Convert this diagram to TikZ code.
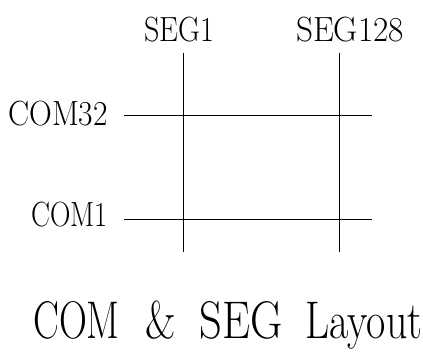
\documentclass[tikz,border=0pt]{standalone}
\usepackage{graphicx}
\tikzset{
  lbl/.style={inner sep=0pt, font=\fontsize{35}{42}\selectfont},
  ttl/.style={inner sep=0pt, font=\fontsize{53}{64}\selectfont},
  wire/.style={line width=0.9pt, black}
}
\newcommand{\cnd}[2]{\scalebox{#1}[1]{#2}}
\begin{document}
\begin{tikzpicture}[x=1pt,y=-1pt]
\useasboundingbox (0,0) rectangle (423,352);
% wires
\coordinate (s1t) at (183.5,53);
\coordinate (s1b) at (183.5,252);
\coordinate (s2t) at (339,53);
\coordinate (s2b) at (339,252);
\coordinate (c32l) at (124,115.5);
\coordinate (c32r) at (372,115.5);
\coordinate (c1l) at (124,219);
\coordinate (c1r) at (372,219);
\draw[wire] (s1t) -- (s1b);
\draw[wire] (s2t) -- (s2b);
\draw[wire] (c32l) -- (c32r);
\draw[wire] (c1l) -- (c1r);
% labels
\node[lbl, anchor=base] (seg1) at (179,42) {\cnd{0.86}{SEG1}};
\node[lbl, anchor=base] (seg128) at (350,42) {\cnd{0.95}{SEG128}};
\node[lbl, anchor=base east] (com32) at (108,126) {\cnd{0.9}{COM32}};
\node[lbl, anchor=base east] (com1) at (108,227) {\cnd{0.81}{COM1}};
\node[ttl, anchor=base west] (title) at (33,339) {\cnd{0.73}{COM}\hspace{26pt}\cnd{0.8}{\&}\hspace{23pt}\cnd{0.84}{SEG}\hspace{23pt}\cnd{0.79}{Layout}};
\end{tikzpicture}
\end{document}
